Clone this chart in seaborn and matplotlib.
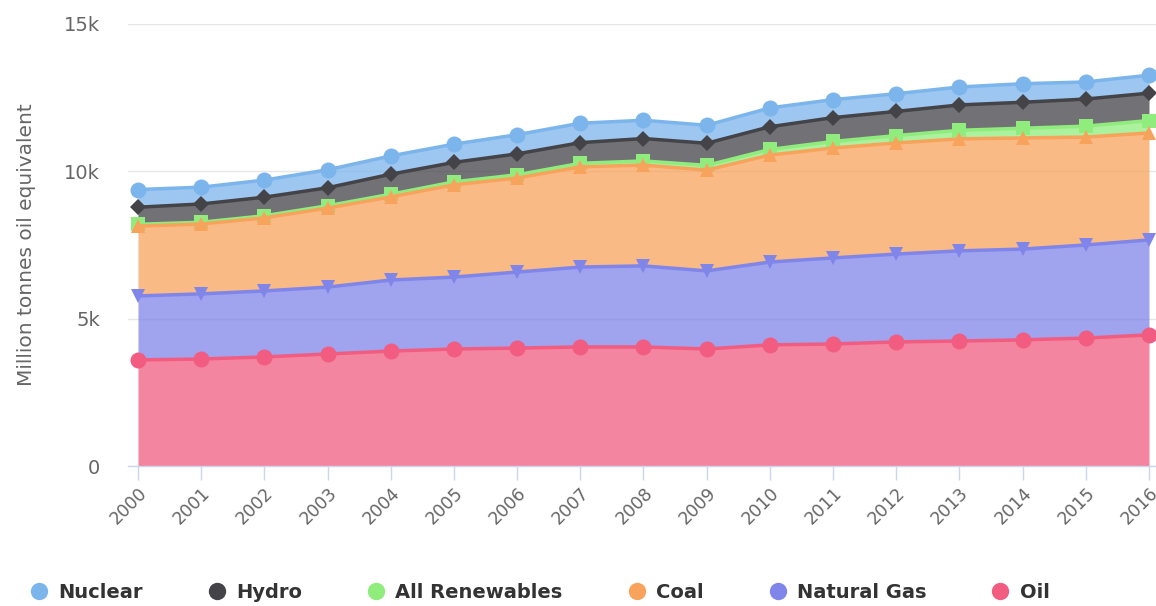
import numpy as np
import pandas as pd
import matplotlib
matplotlib.use("Agg")
import matplotlib.pyplot as plt
import seaborn as sns
from matplotlib.lines import Line2D
from matplotlib.ticker import FuncFormatter

# Datos (millones de toneladas equivalentes de petróleo)
years = [2000, 2001, 2002, 2003, 2004, 2005, 2006, 2007, 2008,
         2009, 2010, 2011, 2012, 2013, 2014, 2015, 2016]
nuclear = [600, 570, 580, 610, 620, 620, 650, 660, 620, 610, 640, 610, 600, 610, 630, 580, 610]
hydro = [580, 620, 630, 610, 680, 660, 710, 700, 760, 750, 770, 810, 820, 860, 880, 920, 930]
renewables = [60, 60, 70, 80, 90, 100, 110, 120, 140, 160, 190, 220, 250, 290, 330, 370, 420]
coal = [2370, 2370, 2480, 2680, 2820, 3130, 3190, 3400, 3420, 3420, 3630, 3730, 3770, 3800, 3770, 3660, 3630]
natural_gas = [2170, 2210, 2240, 2270, 2410, 2440, 2580, 2710, 2750, 2650, 2810, 2920, 2980, 3060, 3080, 3160, 3220]
oil = [3600, 3630, 3700, 3800, 3900, 3970, 4000, 4040, 4040, 3970, 4110, 4140, 4210, 4240, 4280, 4340, 4450]

series_names = ["Nuclear", "Hydro", "All Renewables", "Coal", "Natural Gas", "Oil"]
series_values = [nuclear, hydro, renewables, coal, natural_gas, oil]
colors = ["#7cb5ec", "#434348", "#90ed7d", "#f7a35c", "#8085e9", "#f15c80"]
markers = ["o", "D", "s", "^", "v", "o"]
msizes = [11.5, 8.5, 9.5, 10.5, 10.5, 11.5]

# Tabla con valores acumulados (Oil abajo, Nuclear arriba)
df = pd.DataFrame(dict(zip(series_names, series_values)), index=years)
stack_order = series_names[::-1]
cum = df[stack_order].cumsum(axis=1)

sns.set_theme(style="white")
plt.rcParams["font.family"] = ["DejaVu Sans"]

fig = plt.figure(figsize=(11.56, 6.06), dpi=100)
ax = fig.add_axes([0.1107, 0.231, 0.8893, 0.7296])

# Dibujar de Nuclear a Oil (Oil encima, como en el original)
for i, name in enumerate(series_names):
    pos = stack_order.index(name)
    top = cum[name].values
    bottom = cum[stack_order[pos - 1]].values if pos > 0 else np.zeros(len(years))
    ax.fill_between(years, bottom, top, color=colors[i], alpha=0.75, linewidth=0, zorder=2 + i)
    sns.lineplot(x=years, y=top, ax=ax, color=colors[i], linewidth=2.5, marker=markers[i],
                 markersize=msizes[i], markeredgewidth=0, zorder=2.5 + i, legend=False)

ax.set_xlim(2000 - 10 / 63.19, 2016 + 7 / 63.19)
ax.set_ylim(0, 15000)
ax.set_yticks([0, 5000, 10000, 15000])
ax.yaxis.set_major_formatter(FuncFormatter(lambda v, p: "0" if v == 0 else f"{int(v / 1000)}k"))
ax.set_xticks(years)
ax.set_xticklabels([str(y) for y in years], rotation=45, ha="right", rotation_mode="anchor")

ax.grid(axis="y", color="#e6e6e6", linewidth=1, zorder=0)
ax.set_axisbelow(True)
for s in ["top", "right", "left"]:
    ax.spines[s].set_visible(False)
ax.spines["bottom"].set_color("#ccd6eb")
ax.spines["bottom"].set_linewidth(1)
ax.spines["bottom"].set_zorder(20)
ax.tick_params(axis="x", length=10, width=1, color="#ccd6eb", labelsize=12.5,
               labelcolor="#666666", pad=3, bottom=True)
ax.tick_params(axis="y", length=0, labelsize=14, labelcolor="#666666", pad=20)

ax.set_ylabel("Million tonnes oil equivalent", fontsize=14.5, color="#666666")
ax.yaxis.set_label_coords(-0.0895, 0.5)

handles = [Line2D([], [], linestyle="none", marker="o", markersize=12.5, color=c, markeredgewidth=0)
           for c in colors]
leg = fig.legend(handles, series_names, loc="center", bbox_to_anchor=(0.467, 0.023), ncol=6,
                 frameon=False, handlelength=0.9, handletextpad=0.55, columnspacing=3.35,
                 prop={"size": 14, "weight": "bold"})
for t in leg.get_texts():
    t.set_color("#333333")

plt.savefig("out.png", dpi=100)
